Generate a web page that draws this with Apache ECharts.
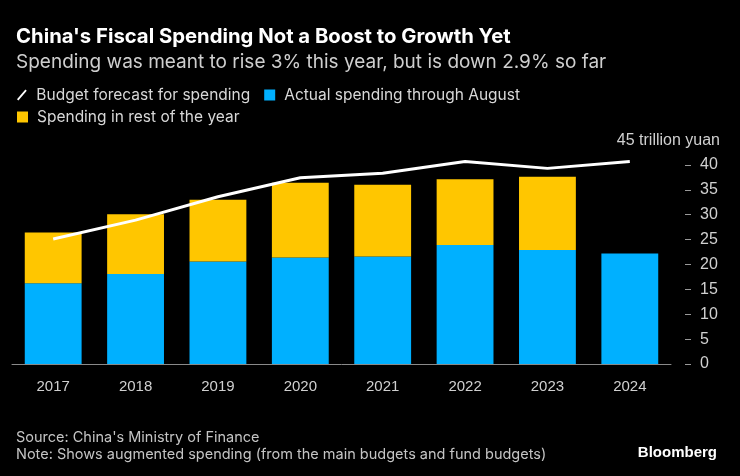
<!DOCTYPE html>
<html><head><meta charset="utf-8">
<script src="https://cdn.jsdelivr.net/npm/echarts@6/dist/echarts.min.js"></script>
<style>html,body{margin:0;padding:0;background:#000}#c{width:740px;height:476px}</style>
</head><body><div id="c"></div>
<script>
const years = ['2017','2018','2019','2020','2021','2022','2023','2024'];
const budgetForecast = [25.1, 28.9, 33.6, 37.4, 38.3, 40.7, 39.3, 40.7];
const actualThroughAugust = [16.2, 18.1, 20.6, 21.4, 21.6, 23.9, 22.9, 22.2];
const restOfYear = [10.2, 12.0, 12.4, 15.0, 14.4, 13.2, 14.7, null];
const yTicks = [0, 5, 10, 15, 20, 25, 30, 35, 40];

const FONT = 'Inter, Liberation Sans, Arial, sans-serif';
const AFONT = 'Liberation Sans, Arial, sans-serif';
const chart = echarts.init(document.getElementById('c'), null, {renderer: 'canvas'});
const legendText = {color: '#d8d8d8', fontSize: 15.5, fontFamily: FONT, padding: [0, 0, 0, 4]};
chart.setOption({
  backgroundColor: '#000',
  animation: false,
  textStyle: {fontFamily: FONT},
  title: [
    {text: "China's Fiscal Spending Not a Boost to Growth Yet", left: 11, top: 22,
     textStyle: {color: '#fff', fontSize: 20.3, fontWeight: 'bold', fontFamily: FONT}},
    {text: 'Spending was meant to rise 3% this year, but is down 2.9% so far', left: 11, top: 48,
     textStyle: {color: '#cfcfcf', fontSize: 19, fontWeight: 'normal', fontFamily: FONT}},
    {text: 'Source: China\'s Ministry of Finance\nNote: Shows augmented spending (from the main budgets and fund budgets)',
     left: 11, top: 424, textStyle: {color: '#c4c4c4', fontSize: 14.5, fontWeight: 'normal', lineHeight: 17, fontFamily: FONT}},
    {text: 'Bloomberg', right: 18, top: 440,
     textStyle: {color: '#fff', fontSize: 15, fontWeight: 'bold', fontFamily: AFONT}}
  ],
  graphic: [
    {type: 'text', right: 20, top: 133, style: {text: '45 trillion yuan', fill: '#d0d0d0', font: '16px ' + AFONT}}
  ],
  legend: [
    {left: 17, top: 87, padding: 0, itemGap: 14, itemWidth: 11, itemHeight: 11, textStyle: legendText,
     data: [
       {name: 'Budget forecast for spending', icon: 'path://M0,10 L8.6,0 L10,1.3 L1.4,11.3 Z', itemStyle: {color: '#fff'}},
       {name: 'Actual spending through August', icon: 'rect'}
     ]},
    {left: 17, top: 109, padding: 0, itemGap: 14, itemWidth: 11, itemHeight: 11, textStyle: legendText,
     data: [{name: 'Spending in rest of the year', icon: 'rect'}]}
  ],
  grid: {left: 12, right: 69, top: 140, bottom: 112},
  xAxis: {
    type: 'category', data: years,
    axisLine: {lineStyle: {color: '#8a8a8a', width: 1}},
    axisTick: {alignWithLabel: true, length: 5, lineStyle: {color: '#8a8a8a'}},
    axisLabel: {color: '#d0d0d0', fontSize: 15, margin: 15, fontFamily: AFONT}
  },
  yAxis: {
    type: 'value', position: 'right', min: 0, max: 45, interval: 5, offset: 14,
    splitLine: {show: false},
    axisLine: {show: false},
    axisTick: {show: true, length: 6, customValues: yTicks, lineStyle: {color: '#9a9a9a'}},
    axisLabel: {color: '#d0d0d0', fontSize: 16, margin: 15, customValues: yTicks, fontFamily: AFONT}
  },
  series: [
    {name: 'Actual spending through August', type: 'bar', stack: 's', data: actualThroughAugust,
     barCategoryGap: '31%', itemStyle: {color: '#00B0FF'}},
    {name: 'Spending in rest of the year', type: 'bar', stack: 's', data: restOfYear,
     itemStyle: {color: '#FFC600'}},
    {name: 'Budget forecast for spending', type: 'line', data: budgetForecast, showSymbol: false,
     symbol: 'none', lineStyle: {color: '#fff', width: 3}, itemStyle: {color: '#fff'}, z: 5}
  ]
});
</script></body></html>
